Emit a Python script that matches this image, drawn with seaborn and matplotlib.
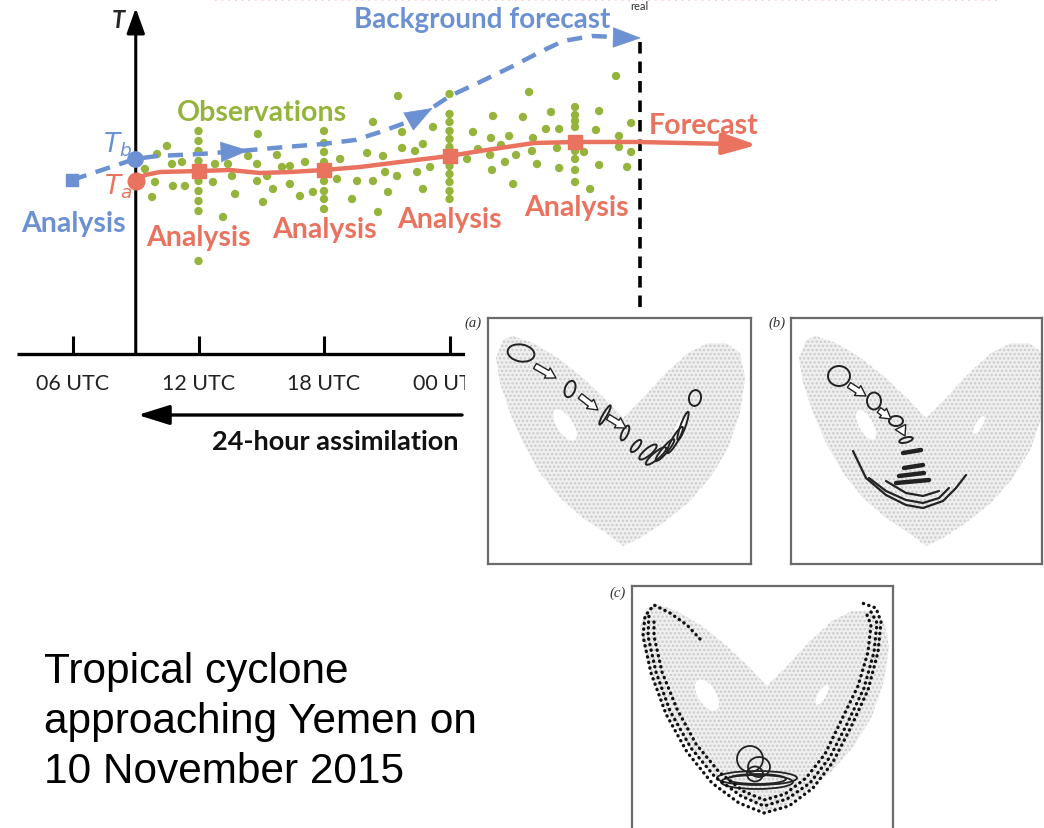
import numpy as np
import matplotlib
matplotlib.use("Agg")
import matplotlib.pyplot as plt
from matplotlib.patches import Polygon, Ellipse, Rectangle
import seaborn as sns

sns.set_theme(style="white")
plt.rcParams['font.family'] = ['Lato', 'DejaVu Sans']
plt.rcParams['hatch.linewidth'] = 1.2

BLUE = '#6C91D3'
RED = '#E9735F'
GREEN = '#94B43C'

# ---- assimilation diagram (x = hours from 00 UTC day 1, y = temperature, arbitrary units)
tick_hours = [6, 12, 18, 24]
tick_labels = ['06 UTC', '12 UTC', '18 UTC', '00 UTC']

bg_hours = [5.95, 8.96, 10.02, 12.07, 13.98, 16.14, 17.95, 19.48, 20.68, 21.87,
            22.93, 24.02, 25.46, 27.04, 28.33, 29.43, 30.81, 32.01, 32.6]
bg_temp = [17.4, 19.5, 19.8, 20.0, 20.3, 20.7, 21.0, 21.4, 22.2, 23.1,
           24.3, 25.8, 27.2, 28.8, 30.2, 31.3, 31.8, 31.7, 31.65]
bg_tip = (33.15, 31.6)

an_hours = [9.0, 9.44, 10.16, 12.02, 13.5, 14.94, 16.38, 18.0, 19.72, 21.63,
            23.98, 25.46, 28.04, 30.05, 33.06, 37.3]
an_temp = [17.3, 17.9, 18.2, 18.3, 18.4, 18.1, 18.2, 18.4, 18.7, 19.2,
           19.8, 20.3, 21.1, 21.2, 21.2, 21.0]
an_tip = (38.7, 20.9)

an_square_hours = [12, 18, 24, 30]
an_square_temp = [18.3, 18.4, 19.8, 21.2]

# observations taken in bursts at the analysis times
col_hours = [12, 18, 24, 30]
col_temps = [
    [22.3, 21.3, 20.3, 19.3, 17.3, 16.3, 15.3, 14.3, 9.3],
    [22.3, 21.1, 20.2, 19.2, 17.3, 16.3, 15.5, 14.5],
    [26.0, 24.0, 23.2, 22.3, 21.5, 20.7, 18.8, 18.0, 17.2, 16.3, 15.5],
    [24.7, 23.9, 23.3, 22.7, 20.3, 19.5, 18.4, 17.2],
]
# scattered observations
obs_hours = [31.96, 27.80, 26.08, 27.51, 28.85, 31.15, 32.68, 25.98, 26.85, 27.99,
             28.61, 29.24, 31.0, 32.1, 32.1, 26.46, 25.94, 27.18, 27.94, 29.14,
             30.43, 32.68, 26.03, 26.65, 28.18, 29.24, 31.15, 32.49, 27.04, 30.72,
             21.54, 14.84, 20.34, 21.73, 23.21, 25.12, 10.49, 10.02, 9.44, 10.73,
             11.21, 12.79, 13.41, 14.37, 14.80, 15.75, 15.99, 16.37, 17.09, 18.77,
             20.06, 20.82, 21.73, 22.35, 22.73, 24.84, 25.36, 9.92, 10.78, 11.35,
             12.69, 13.60, 13.75, 14.80, 15.28, 15.56, 16.37, 16.85, 17.47, 18.62,
             19.58, 20.34, 20.92, 21.49, 21.06, 22.45, 22.73, 23.07, 9.78, 15.08,
             19.34, 20.58, 13.17]
obs_temp = [27.8, 26.2, 23.8, 23.7, 24.2, 24.3, 23.1, 21.6, 21.8, 21.6,
            22.5, 22.5, 22.4, 21.8, 20.7, 20.9, 19.9, 19.9, 20.3, 20.6,
            20.2, 20.2, 18.4, 19.2, 19.0, 18.6, 18.9, 18.7, 17.0, 16.5,
            25.8, 22.0, 23.2, 22.2, 22.7, 22.2, 20.8, 20.0, 18.5, 19.0,
            19.2, 19.0, 19.0, 19.8, 19.0, 19.9, 18.7, 18.8, 19.2, 19.5,
            20.1, 19.8, 20.6, 20.3, 21.0, 19.5, 20.5, 17.2, 16.8, 16.8,
            17.2, 17.8, 16.0, 17.3, 17.8, 16.5, 17.0, 15.8, 16.2, 17.5,
            17.3, 17.3, 18.2, 17.8, 16.2, 18.2, 16.5, 18.7, 15.7, 15.2,
            15.5, 14.2, 13.7]

# ---- Lorenz attractor sketches (panel pixel units, y measured downwards)
attractor_x = [15, 8, 12, 22, 35, 52, 72, 95, 118, 135, 152, 175, 200, 222, 240,
               252, 257, 252, 238, 220, 200, 178, 155, 135, 118, 95, 70, 45, 25]
attractor_y = [22, 40, 65, 95, 125, 155, 180, 200, 215, 228, 220, 205, 185, 160, 130,
               95, 60, 35, 25, 25, 35, 55, 80, 100, 82, 60, 40, 25, 18]
holes = {'a': [(77, 107, 36, 16, 57), (192, 108, 18, 7, -61)],
         'b': [(75, 107, 33, 14, 61), (188, 107, 20, 7, -60)],
         'c': [(75, 109, 35, 18, 58), (190, 109, 22, 8, -60)]}

ens_a = [(33, 35, 27, 17, 10), (82, 71, 17, 10, -70), (117, 97, 22, 4, -60),
         (137, 115, 16, 6, -65), (148, 128, 15, 6, -50), (160, 134, 22, 7, -40),
         (168, 138, 26, 7, -40), (177, 132, 28, 6, -50), (187, 122, 30, 6, -60),
         (195, 108, 30, 5, -70), (207, 80, 12, 16, 10)]
arrows_a = [((47, 48), (68, 60)), ((92, 78), (110, 92)), ((120, 99), (138, 110))]

ens_b = [(48, 58, 22, 20, 0), (83, 83, 14, 17, 0), (105, 103, 14, 10, 0),
         (115, 122, 14, 5, -15)]
arrows_b = [((58, 67), (75, 78)), ((88, 92), (100, 101)), ((110, 110), (114, 118))]
strokes_b = [((112, 135), (130, 132)), ((113, 150), (132, 147)),
             ((108, 158), (133, 155)), ((105, 165), (138, 162))]
arcs_b = [([62, 75, 95, 115, 132, 152, 165, 175], [133, 160, 177, 187, 190, 183, 170, 157]),
          ([78, 95, 115, 132, 148, 158], [160, 173, 182, 185, 180, 170]),
          ([95, 115, 132, 148], [163, 175, 178, 173])]

band_outer_x = [68, 55, 38, 22, 13, 11, 19, 34, 55, 80, 107, 132, 157, 181, 201, 219,
                236, 246, 249, 244, 230]
band_outer_y = [53, 39, 27, 19, 30, 50, 87, 128, 166, 197, 217, 227, 220, 202, 176, 141,
                104, 66, 36, 22, 17]
band_mid_x = [17, 16, 24, 38, 59, 83, 109, 132, 155, 178, 198, 215, 232, 242, 245, 238]
band_mid_y = [28, 50, 86, 125, 162, 191, 210, 220, 213, 197, 171, 138, 102, 66, 37, 24]
band_inner_x = [22, 22, 30, 45, 64, 87, 111, 132, 153, 174, 193, 209, 226, 236, 239, 235]
band_inner_y = [32, 50, 86, 123, 158, 186, 205, 214, 208, 192, 168, 135, 100, 66, 39, 29]
ens_c = [(118, 173, 26, 26, 0), (127, 181, 22, 20, 0), (123, 188, 16, 15, 0),
         (125, 192, 80, 14, 0), (125, 196, 72, 14, 0), (125, 193, 58, 10, 0)]

fig = plt.figure(figsize=(10.44, 8.29), dpi=100)
fig.patch.set_facecolor('white')

ax = fig.add_axes([0, 0, 1, 1])
ax.set_xlim(2.51, 52.42)
ax.set_ylim(-47.4, 35.5)
ax.axis('off')

# faint dotted header line and "real" label
ax.plot([12.8, 50.3], [35.4, 35.4], color='#f2c4c4', lw=1.2, ls=(0, (1, 3)))
ax.text(33.1, 35.45, 'real', ha='center', va='top', fontsize=8, color='#333333')

# axes of the sketch
ax.plot([3.32, 33.1], [0, 0], color='black', lw=2.4, solid_capstyle='butt')
ax.vlines(tick_hours + [30], 0, 1.8, color='black', lw=2.2)
for h, lab in zip(tick_hours, tick_labels):
    ax.text(h, -2.9, lab, ha='center', va='center', fontsize=15.5, color='#222222')
ax.annotate('', xy=(9.0, 34.6), xytext=(9.0, 0),
            arrowprops=dict(arrowstyle='-|>,head_length=0.7,head_width=0.25',
                            color='black', lw=2.2, mutation_scale=22,
                            shrinkA=0, shrinkB=0))
ax.text(8.15, 33.5, 'T', ha='center', va='center', fontsize=17,
        fontweight='bold', fontstyle='italic')
ax.annotate('', xy=(9.1, -6.1), xytext=(24.6, -6.1),
            arrowprops=dict(arrowstyle='-|>,head_length=0.8,head_width=0.25',
                            color='black', lw=2.4, mutation_scale=24,
                            shrinkA=0, shrinkB=0))
ax.text(18.53, -8.7, '24-hour assimilation', ha='center', va='center',
        fontsize=19.5, fontweight='bold', color='#111111')

# vertical dashed "now" line
ax.plot([33.1, 33.1], [31.2, 0], color='black', lw=2.6, dashes=(3.2, 2.2))

# observations
col_h = [h for h, ts in zip(col_hours, col_temps) for _ in ts]
col_t = [t for ts in col_temps for t in ts]
sns.scatterplot(x=obs_hours + col_h, y=obs_temp + col_t, ax=ax, color=GREEN,
                s=36, edgecolor='none', zorder=2, legend=False)

# background forecast (dashed blue)
ax.plot(bg_hours, bg_temp, color=BLUE, lw=3.2, dashes=(3.4, 2.2), zorder=3,
        solid_capstyle='butt')
for tail, tip in [((13.0, 20.2), (14.4, 20.35)), ((22.3, 23.55), (23.2, 24.6)),
                  ((32.4, 31.63), bg_tip)]:
    ax.annotate('', xy=tip, xytext=tail,
                arrowprops=dict(arrowstyle='-|>,head_length=0.6,head_width=0.22',
                                fc=BLUE, ec=BLUE, lw=0.5, mutation_scale=32,
                                shrinkA=0, shrinkB=0), zorder=4)
ax.plot(bg_hours[0], bg_temp[0], marker='s', ms=9, color=BLUE, zorder=4)
ax.plot(bg_hours[1], bg_temp[1], marker='o', ms=11, color=BLUE, zorder=4)

# analysis / forecast (solid red)
sns.lineplot(x=an_hours, y=an_temp, ax=ax, color=RED, lw=3.2, sort=False,
             estimator=None, zorder=3)
ax.annotate('', xy=an_tip, xytext=(an_hours[-1], an_temp[-1]),
            arrowprops=dict(arrowstyle='-|>,head_length=0.8,head_width=0.25',
                            fc=RED, ec=RED, lw=3.2, mutation_scale=26,
                            shrinkA=0, shrinkB=0), zorder=3)
ax.plot(an_square_hours, an_square_temp, 's', ms=10, color=RED, zorder=4)
ax.plot(an_hours[0], an_temp[0], marker='o', ms=12, color=RED, zorder=4)

# labels
LAB = 20.5
ax.text(25.55, 33.5, 'Background forecast', color=BLUE, fontsize=20,
        fontweight='bold', ha='center', va='center')
ax.text(15.04, 24.2, 'Observations', color=GREEN, fontsize=LAB,
        fontweight='bold', ha='center', va='center')
ax.text(36.17, 22.9, 'Forecast', color=RED, fontsize=LAB,
        fontweight='bold', ha='center', va='center')
ax.text(8.15, 21.0, r'$\mathit{T}_{\mathit{b}}$', color=BLUE, fontsize=19,
        ha='center', va='center')
ax.text(8.15, 16.8, r'$\mathit{T}_{\mathit{a}}$', color=RED, fontsize=19,
        ha='center', va='center')
ax.text(6.0, 13.1, 'Analysis', color=BLUE, fontsize=LAB, fontweight='bold',
        ha='center', va='center')
for h, t in zip([12.0, 18.0, 23.98, 30.05], [11.7, 12.5, 13.5, 14.7]):
    ax.text(h, t, 'Analysis', color=RED, fontsize=LAB, fontweight='bold',
            ha='center', va='center')

fig.text(44 / 1044, 1 - 652 / 829,
         'Tropical cyclone\napproaching Yemen on\n10 November 2015',
         family='Liberation Sans', fontsize=30.5, ha='left', va='top',
         linespacing=1.33, color='black')

# white margin of the pasted attractor figure (hides the end of the time axis)
fig.add_artist(Rectangle((465 / 1044, 1 - 570 / 829), 290 / 1044, 258 / 829,
                         transform=fig.transFigure, fc='white', ec='none',
                         zorder=0.5))


def lorenz_panel(rect, w, h, key, label, label_xy):
    pax = fig.add_axes(rect)
    pax.set_zorder(1)
    pax.set_xlim(0, w)
    pax.set_ylim(h, 0)
    pax.set_facecolor('white')
    pax.set_xticks([])
    pax.set_yticks([])
    for sp in pax.spines.values():
        sp.set_color('#6a6a6a')
        sp.set_linewidth(1.6)
    pax.add_patch(Polygon(np.column_stack([attractor_x, attractor_y]), closed=True,
                          fc='#f0f0f0', ec='#cbcbcb', lw=0, hatch='....'))
    for cx, cy, ew, eh, ang in holes[key]:
        pax.add_patch(Ellipse((cx, cy), ew, eh, angle=ang, fc='white', ec='none'))
    fig.text(label_xy[0] / 1044, 1 - label_xy[1] / 829, label,
             family='Liberation Serif', fontstyle='italic', fontsize=10.5,
             ha='center', va='center', color='#333333', zorder=5)
    return pax


def draw_ellipses(pax, ens, lw=1.4):
    for cx, cy, ew, eh, ang in ens:
        pax.add_patch(Ellipse((cx, cy), ew, eh, angle=ang, fc='none',
                              ec='#222222', lw=lw))


def draw_arrows(pax, arrows):
    for start, end in arrows:
        pax.annotate('', xy=end, xytext=start,
                     arrowprops=dict(arrowstyle='simple,head_length=0.6,head_width=0.7,tail_width=0.35',
                                     fc='white', ec='#222222', lw=1.0,
                                     mutation_scale=12, shrinkA=0, shrinkB=0))


pa = lorenz_panel([488 / 1044, 1 - 565 / 829, 263 / 1044, 246 / 829], 263, 246,
                  'a', '(a)', (473, 323))
draw_ellipses(pa, ens_a)
draw_arrows(pa, arrows_a)

pb = lorenz_panel([791 / 1044, 1 - 565 / 829, 251 / 1044, 246 / 829], 251, 246,
                  'b', '(b)', (777, 323))
draw_ellipses(pb, ens_b)
draw_arrows(pb, arrows_b)
for (x0, y0), (x1, y1) in strokes_b:
    pb.plot([x0, x1], [y0, y1], color='#222222', lw=3.2, solid_capstyle='round')
for xs, ys in arcs_b:
    pb.plot(xs, ys, color='#222222', lw=1.6)

pc = lorenz_panel([632 / 1044, 1 - 833 / 829, 261 / 1044, 246 / 829], 261, 246,
                  'c', '(c)', (618, 593))
for bx, by, off in [(band_outer_x, band_outer_y, 0.0), (band_mid_x, band_mid_y, 1.0),
                    (band_inner_x, band_inner_y, 0.5)]:
    pc.plot(bx, by, color='#111111', lw=2.4, ls=(off, (0.1, 1.6)),
            dash_capstyle='round')
draw_ellipses(pc, ens_c, lw=1.3)

fig.savefig('out.png', dpi=100, facecolor='white')
